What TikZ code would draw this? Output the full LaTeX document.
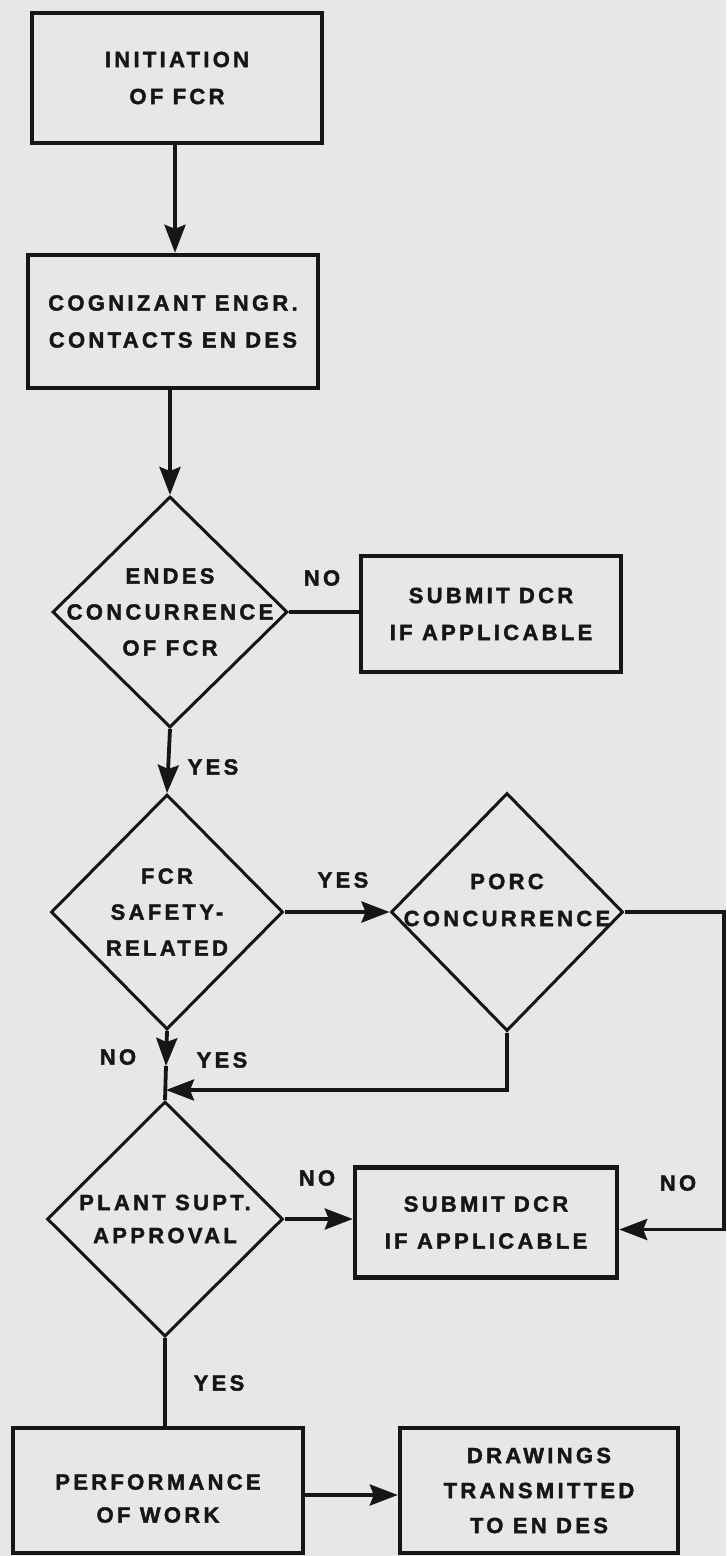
\documentclass[tikz,border=0pt]{standalone}
\usepackage{fontspec}
\newfontfamily\flowfont{Liberation Sans}[UprightFont={* Bold}, LetterSpace=15, FakeBold=1.8]
\usetikzlibrary{shapes.geometric,arrows.meta}
\definecolor{paper}{RGB}{231,231,229}
\definecolor{ink}{RGB}{22,22,22}
\begin{document}
\begin{tikzpicture}[x=1pt,y=-1pt,
  every node/.style={font=\flowfont\fontsize{22}{37}\selectfont, text=ink},
  procbox/.style={draw=ink, line width=4.4pt, inner sep=0pt, align=center},
  decision/.style={draw=ink, shape=diamond, line width=3pt, inner sep=0pt},
  dtext/.style={align=center, inner sep=0pt},
  lbl/.style={inner sep=0pt},
  conn/.style={draw=ink, line width=3.8pt},
  arr/.style={conn, -{Stealth[length=28pt, width=21pt, inset=4pt]}}]
  % paper
  \fill[paper] (0,0) rectangle (726,1556);
  \useasboundingbox (0,0) rectangle (726,1556);

  % process boxes
  \node[procbox, minimum width=290pt, minimum height=130pt] (b1) at (177,78)
    {INITIATION\\OF FCR};
  \node[procbox, minimum width=290pt, minimum height=133pt] (b2) at (173,321.5)
    {COGNIZANT ENGR.\\CONTACTS EN DES};
  \node[procbox, minimum width=260pt, minimum height=116pt] (b3) at (491,614)
    {SUBMIT DCR\\IF APPLICABLE};
  \node[procbox, minimum width=262pt, minimum height=110pt] (b4) at (486,1222.5)
    {SUBMIT DCR\\IF APPLICABLE};
  \node[procbox, minimum width=290pt, minimum height=125pt] (b5) at (158,1490.5) {};
  \node[dtext] (b5t) at ([yshift=-8pt]b5.center) {PERFORMANCE\\[-4pt]OF WORK};
  \node[procbox, minimum width=278pt, minimum height=125pt] (b6) at (539,1490.5)
    {DRAWINGS\\[-2pt]TRANSMITTED\\[-2pt]TO EN DES};

  % decisions
  \node[decision, minimum width=235pt, minimum height=231pt] (d1) at (170,612) {};
  \node[dtext] (d1t) at (d1) {ENDES\\[-1pt]CONCURRENCE\\[-1pt]OF FCR};
  \node[decision, minimum width=232pt, minimum height=235pt] (d2) at (167,912) {};
  \node[dtext] (d2t) at (d2) {FCR\\[-1pt]SAFETY-\\[-1pt]RELATED};
  \node[decision, minimum width=232pt, minimum height=238pt] (d3) at (507,912) {};
  \node[dtext] (d3t) at ([yshift=12pt]d3.center) {PORC\\CONCURRENCE};
  \node[decision, minimum width=236pt, minimum height=235pt] (d4) at (165,1219) {};
  \node[dtext] (d4t) at (d4) {PLANT SUPT.\\[-4pt]APPROVAL};

  % routing points
  \coordinate (rc) at (724,912);
  \coordinate (b4in) at ([yshift=-7pt]b4.east);
  \coordinate (jn) at (166,1090);
  \coordinate (ah) at (166,1066);

  % connectors
  \draw[arr] (b1.south -| 175,0) -- (b2.north -| 175,0);
  \draw[arr] (b2.south -| d1.north) -- (d1.north);
  \draw[conn] (d1.east) -- (b3.west |- d1.east);
  \draw[arr] (d1.south) -- (d2.north);
  \draw[arr] (d2.east) -- (d3.west);
  \draw[arr] (d3.east) -- (rc) |- (b4in);
  \draw[arr] (d3.south) |- (jn);
  \draw[arr] (d2.south) -- (ah);
  \draw[conn] (ah) -- (d4.north);
  \draw[arr] (d4.east) -- (b4.west |- d4.east);
  \draw[conn] (d4.south) -- (b5.north -| d4.south);
  \draw[arr] (b5.east |- 0,1495) -- (b6.west |- 0,1495);

  % branch labels
  \node[lbl] (l1) at (322,578) {NO};
  \node[lbl] (l2) at (213,767) {YES};
  \node[lbl] (l3) at (343,880) {YES};
  \node[lbl] (l4) at (678,1183) {NO};
  \node[lbl] (l5) at (222,1060) {YES};
  \node[lbl] (l6) at (118,1057) {NO};
  \node[lbl] (l7) at (317,1178) {NO};
  \node[lbl] (l8) at (219,1383) {YES};
\end{tikzpicture}
\end{document}
